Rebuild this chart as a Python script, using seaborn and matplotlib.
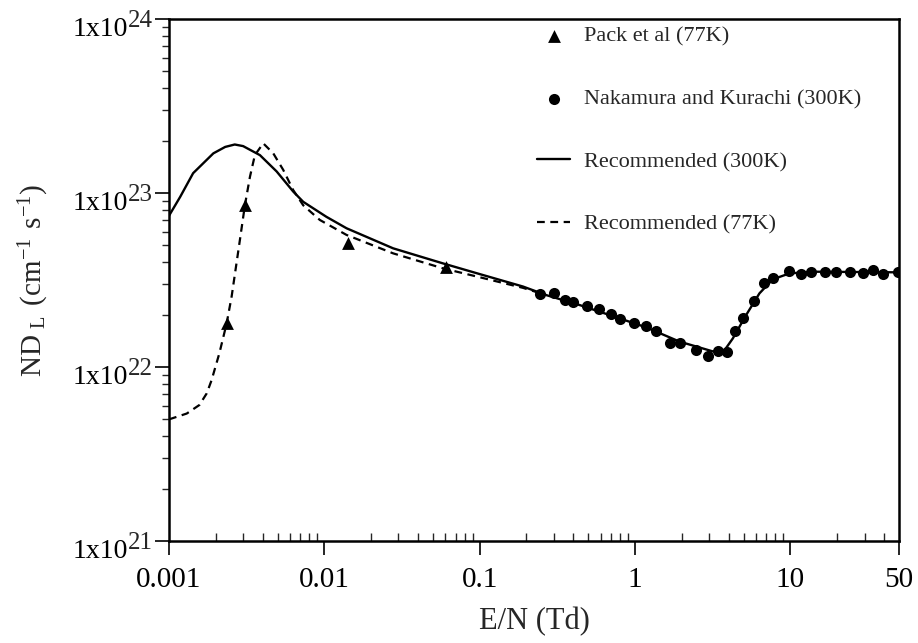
import math
import matplotlib
matplotlib.use("Agg")
import matplotlib.pyplot as plt
import matplotlib.ticker as mticker
import matplotlib.transforms as mtransforms
import seaborn as sns

# Pack et al (77K) measurements
pack_en = [0.00235, 0.00308, 0.0142, 0.0604]
pack_ndl = [1.78e22, 8.5e22, 5.14e22, 3.77e22]

# Nakamura and Kurachi (300K) measurements
nak_en = [0.243, 0.299, 0.352, 0.398, 0.490, 0.585, 0.695, 0.795, 0.978, 1.18,
          1.37, 1.67, 1.95, 2.45, 2.94, 3.41, 3.89, 4.43, 4.93, 5.87,
          6.81, 7.78, 9.86, 11.7, 13.6, 16.6, 19.7, 24.2, 29.2, 33.8,
          39.2, 49.0]
nak_ndl = [2.62e22, 2.67e22, 2.43e22, 2.37e22, 2.24e22, 2.15e22, 2.02e22, 1.88e22, 1.80e22, 1.71e22,
           1.62e22, 1.38e22, 1.37e22, 1.26e22, 1.16e22, 1.24e22, 1.22e22, 1.60e22, 1.92e22, 2.39e22,
           3.03e22, 3.24e22, 3.58e22, 3.41e22, 3.53e22, 3.53e22, 3.50e22, 3.53e22, 3.46e22, 3.61e22,
           3.41e22, 3.53e22]

# Recommended (300K)
rec300_en = [0.001, 0.00118, 0.00143, 0.00193, 0.00230, 0.00265, 0.00300, 0.00385, 0.00493, 0.0063,
             0.00731, 0.0103, 0.0139, 0.0277, 0.058, 0.1, 0.19, 0.268, 0.44, 0.72,
             1.18, 1.93, 3.16, 3.77, 4.26, 5.19, 6.32, 7.69, 9.86, 13.9, 50.0]
rec300_ndl = [7.4e22, 9.5e22, 1.3e23, 1.69e23, 1.84e23, 1.9e23, 1.86e23, 1.65e23, 1.33e23, 1.02e23,
              8.9e22, 7.3e22, 6.27e22, 4.81e22, 3.94e22, 3.42e22, 2.9e22, 2.59e22, 2.27e22, 1.96e22,
              1.69e22, 1.40e22, 1.23e22, 1.25e22, 1.46e22, 1.99e22, 2.65e22, 3.19e22, 3.45e22, 3.53e22, 3.5e22]

# Recommended (77K)
rec77_en = [0.001, 0.0013, 0.00157, 0.00175, 0.00188, 0.00211, 0.00235, 0.00253, 0.00286, 0.00308,
            0.00332, 0.00357, 0.00404, 0.00469, 0.00543, 0.0063, 0.00731, 0.00935, 0.0139, 0.0277,
            0.058, 0.1, 0.19, 0.268]
rec77_ndl = [5.0e21, 5.4e21, 6.05e21, 7.06e21, 8.4e21, 1.2e22, 1.78e22, 2.54e22, 5.37e22, 8.5e22,
             1.24e23, 1.65e23, 1.93e23, 1.69e23, 1.36e23, 1.04e23, 8.5e22, 7.0e22, 5.74e22, 4.5e22,
             3.69e22, 3.28e22, 2.85e22, 2.59e22]

xticks = [0.001, 0.01, 0.1, 1, 10, 50]
xticklabels = ["0.001", "0.01", "0.1", "1", "10", "50"]
yticks = [1e21, 1e22, 1e23, 1e24]

sns.set_style("ticks")
plt.rcParams["font.family"] = ["Liberation Serif", "DejaVu Serif"]
plt.rcParams["mathtext.fontset"] = "custom"
plt.rcParams["mathtext.rm"] = "Liberation Serif"

fig = plt.figure(figsize=(9.18, 6.43), dpi=100)
ax = fig.add_axes([169 / 918, 1 - 541 / 643, 730 / 918, 522 / 643])

sns.scatterplot(x=pack_en, y=pack_ndl, marker="^", s=85, color="black",
                edgecolor="black", linewidth=0, ax=ax, label="Pack et al (77K)", zorder=4)
sns.scatterplot(x=nak_en, y=nak_ndl, marker="o", s=64, color="black",
                edgecolor="black", linewidth=0, ax=ax, label="Nakamura and Kurachi (300K)", zorder=4)
sns.lineplot(x=rec300_en, y=rec300_ndl, color="black", linewidth=1.7, sort=False,
             ax=ax, label="Recommended (300K)", zorder=3)
sns.lineplot(x=rec77_en, y=rec77_ndl, color="black", linewidth=1.6, sort=False,
             linestyle=(0, (3.5, 2.5)), ax=ax, label="Recommended (77K)", zorder=3)

ax.set_xscale("log")
ax.set_yscale("log")
ax.set_xlim(0.001, 50)
ax.set_ylim(1e21, 1e24)

ax.set_xticks(xticks)
ax.set_xticklabels(xticklabels)
ax.set_yticks(yticks)
ax.set_yticklabels(["1x10"] * len(yticks))
ax.xaxis.set_minor_locator(mticker.LogLocator(base=10, subs=range(2, 10), numticks=20))
ax.yaxis.set_minor_locator(mticker.LogLocator(base=10, subs=range(2, 10), numticks=20))
ax.xaxis.set_minor_formatter(mticker.NullFormatter())
ax.yaxis.set_minor_formatter(mticker.NullFormatter())

ax.tick_params(axis="x", which="major", direction="out", length=10, width=1.2,
               labelsize=21, pad=9, colors="black")
ax.tick_params(axis="x", which="minor", direction="in", length=5.5, width=1.0)
ax.tick_params(axis="y", which="major", direction="out", length=10, width=1.2,
               labelsize=20, pad=19.5, colors="black")
ax.tick_params(axis="y", which="minor", direction="out", length=5, width=1.0)

# "1x10" sits a little below the tick, the exponent is raised beside it
shift = mtransforms.ScaledTranslation(0, -11 / 100, fig.dpi_scale_trans)
for lab in ax.get_yticklabels():
    lab.set_verticalalignment("center")
    lab.set_transform(lab.get_transform() + shift)
ytrans = mtransforms.blended_transform_factory(ax.transAxes, ax.transData)
for v in yticks:
    ax.annotate(str(round(math.log10(v))), xy=(0, v), xycoords=ytrans,
                xytext=(-11.5, -1.5), textcoords="offset points",
                ha="right", va="center", fontsize=18)

for side in ["left", "bottom", "top", "right"]:
    ax.spines[side].set_visible(True)
    ax.spines[side].set_color("black")
    ax.spines[side].set_linewidth(1.8)

ax.set_xlabel("E/N (Td)", fontsize=22, labelpad=10)
ax.set_ylabel(r"$\mathregular{ND_{\ L}\ (cm^{-1}\ s^{-1})}$", fontsize=21)
ax.yaxis.set_label_coords(-(169 - 51) / 730, 0.5)

ax.legend(loc="upper left", bbox_to_anchor=(0.486, 1.012), frameon=False, fontsize=16,
          labelspacing=1.9, handlelength=1.5, handletextpad=0.6, borderaxespad=0.2)

fig.savefig("out.png", dpi=100)
